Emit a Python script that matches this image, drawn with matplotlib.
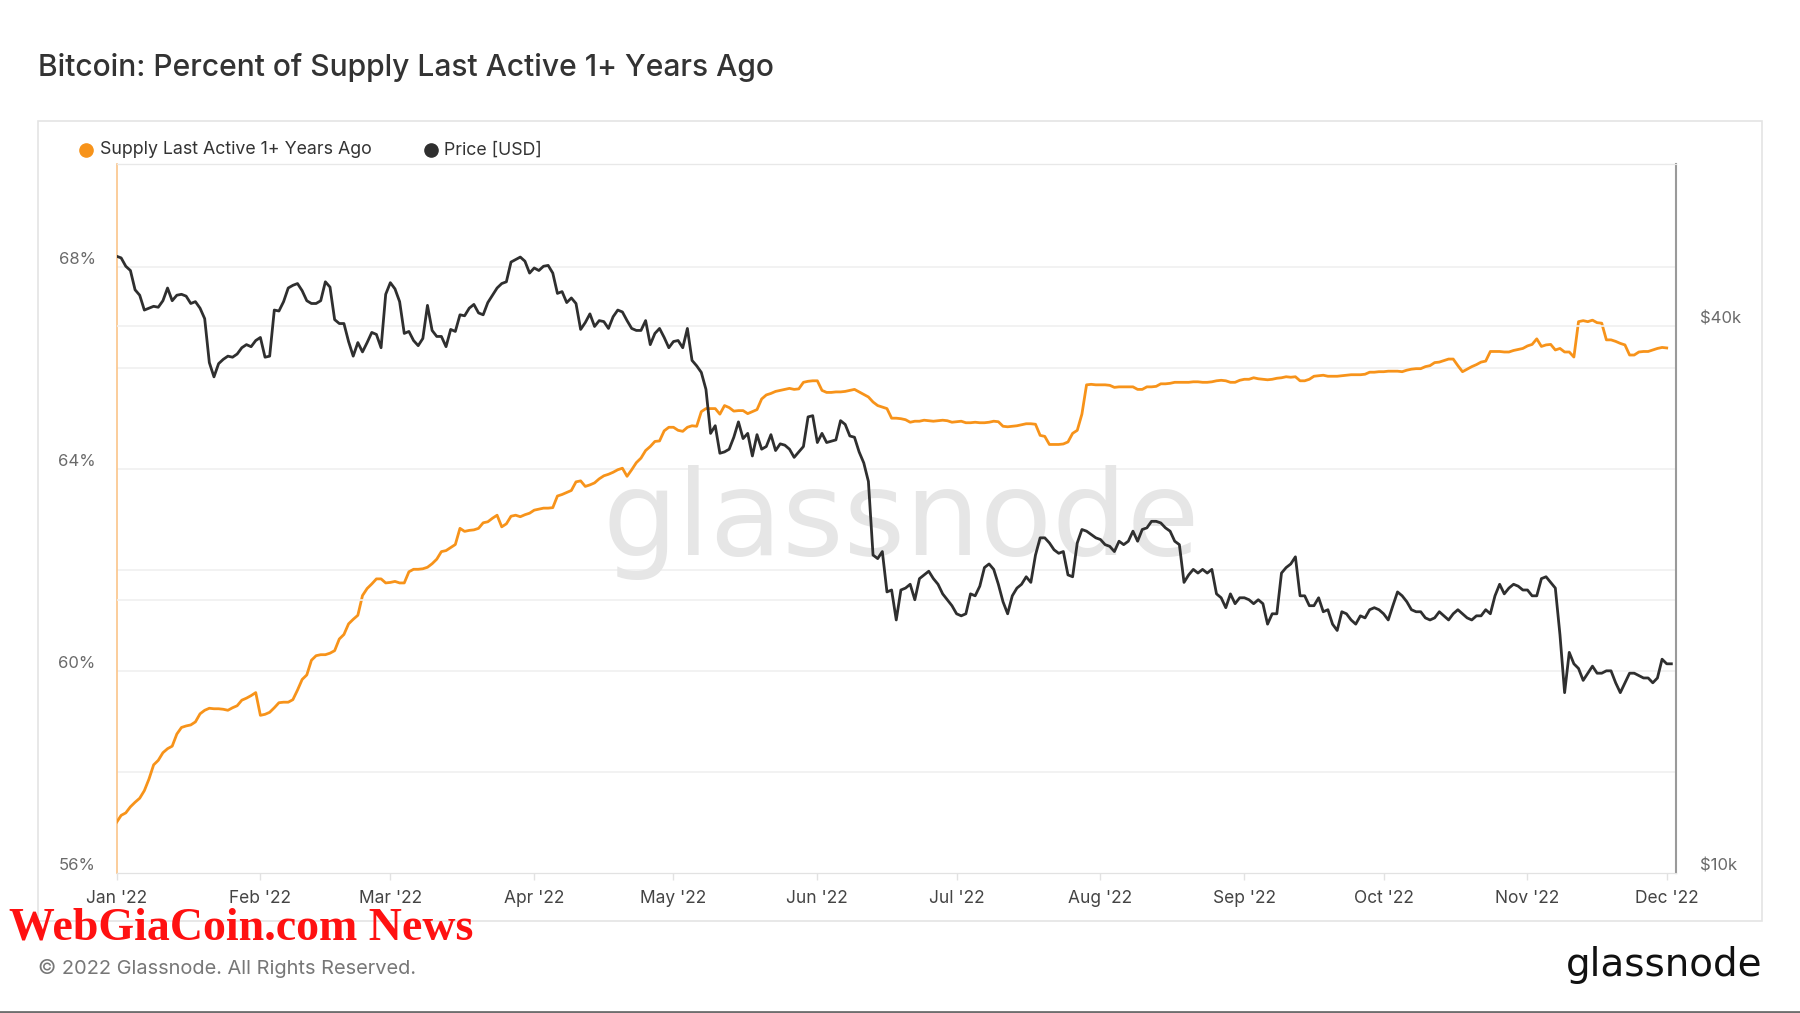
"""
Bitcoin: percent of supply last active 1+ years ago vs price (2022).
"""

import pandas as pd
import matplotlib
matplotlib.use('Agg')
import matplotlib.pyplot as plt
from matplotlib.lines import Line2D
from matplotlib.patches import Rectangle
from matplotlib.ticker import NullLocator


# Supply last active 1+ years ago [%], daily from 2022-01-01
supply_pct = [
    57.00, 57.14, 57.19, 57.31, 57.40, 57.48, 57.63, 57.86, 58.14, 58.23,
    58.38, 58.46, 58.51, 58.75, 58.88, 58.91, 58.93, 58.99, 59.15, 59.22,
    59.26, 59.25, 59.25, 59.24, 59.22, 59.27, 59.31, 59.42, 59.46, 59.51,
    59.57, 59.12, 59.14, 59.18, 59.27, 59.37, 59.38, 59.38, 59.43, 59.62,
    59.83, 59.92, 60.21, 60.30, 60.32, 60.32, 60.35, 60.40, 60.63, 60.72,
    60.93, 61.02, 61.10, 61.49, 61.63, 61.72, 61.82, 61.82, 61.74,
    61.75, 61.77, 61.74, 61.74, 61.96, 62.01, 62.01, 62.02, 62.05, 62.12,
    62.21, 62.36, 62.38, 62.44, 62.50, 62.82, 62.76, 62.78, 62.79, 62.82,
    62.93, 62.95, 63.02, 63.08, 62.85, 62.91, 63.06, 63.08, 63.05, 63.09,
    63.12, 63.18, 63.20, 63.22, 63.22, 63.23, 63.46, 63.49, 63.53, 63.57,
    63.74, 63.76, 63.65, 63.68, 63.72, 63.80, 63.86, 63.89, 63.93, 63.98,
    64.01, 63.85, 63.98, 64.12, 64.21, 64.36, 64.44, 64.54, 64.55,
    64.75, 64.82, 64.82, 64.76, 64.74, 64.82, 64.85, 64.84, 65.13, 65.19,
    65.19, 65.19, 65.08, 65.25, 65.21, 65.14, 65.15, 65.15, 65.09, 65.13,
    65.17, 65.38, 65.46, 65.49, 65.53, 65.55, 65.57, 65.59, 65.57, 65.58,
    65.71, 65.73, 65.74, 65.74, 65.55, 65.51, 65.51, 65.52, 65.52, 65.53,
    65.55, 65.57, 65.52, 65.47, 65.42, 65.32, 65.25, 65.22, 65.19, 65.00,
    65.00, 64.99, 64.97, 64.92, 64.94, 64.94, 64.96, 64.95,
    64.94, 64.95, 64.96, 64.95, 64.92, 64.93, 64.94, 64.91, 64.91, 64.92,
    64.91, 64.91, 64.92, 64.94, 64.93, 64.84, 64.83, 64.84, 64.85, 64.87,
    64.89, 64.89, 64.88, 64.66, 64.64, 64.48, 64.48, 64.48, 64.49, 64.53,
    64.70, 64.76, 65.08, 65.66, 65.67, 65.66, 65.66, 65.66, 65.65, 65.61,
    65.62, 65.62, 65.62, 65.62, 65.57, 65.57, 65.62, 65.62, 65.63, 65.68,
    65.68, 65.69, 65.71, 65.71, 65.71, 65.71, 65.72, 65.72,
    65.71, 65.71, 65.72, 65.74, 65.75, 65.74, 65.71, 65.71, 65.75, 65.77,
    65.77, 65.80, 65.78, 65.77, 65.76, 65.77, 65.79, 65.80, 65.82, 65.81,
    65.82, 65.74, 65.74, 65.77, 65.83, 65.84, 65.85, 65.83, 65.83, 65.83,
    65.84, 65.85, 65.86, 65.86, 65.86, 65.87, 65.91, 65.91, 65.92, 65.92,
    65.93, 65.93, 65.93, 65.92, 65.95, 65.97, 65.98, 65.98, 66.02, 66.04,
    66.10, 66.11, 66.14, 66.17, 66.17, 66.04, 65.92, 65.97,
    66.02, 66.06, 66.11, 66.13, 66.32, 66.32, 66.32, 66.31, 66.31, 66.34,
    66.36, 66.38, 66.43, 66.46, 66.57, 66.42, 66.45, 66.46, 66.35, 66.38,
    66.31, 66.31, 66.21, 66.91, 66.93, 66.91, 66.94, 66.89, 66.88, 66.55,
    66.55, 66.52, 66.48, 66.45, 66.25, 66.25, 66.31, 66.32, 66.32, 66.35,
    66.38, 66.40, 66.39,
]

# BTC price [thousand USD], daily from 2022-01-01
price_k = [
    47.8, 47.6, 46.6, 46.1, 43.9, 43.3, 41.7, 41.9, 42.1, 42.0,
    42.7, 44.1, 42.7, 43.3, 43.4, 43.2, 42.4, 42.6, 41.9, 40.8,
    36.5, 35.2, 36.4, 36.8, 37.1, 37.0, 37.3, 37.9, 38.2, 38.0,
    38.6, 38.9, 37.0, 37.1, 41.7, 41.6, 42.6, 44.1, 44.4, 44.6,
    43.8, 42.7, 42.4, 42.4, 42.7, 44.8, 44.2, 40.7, 40.3, 40.3,
    38.5, 37.1, 38.4, 37.5, 38.4, 39.4, 39.2, 37.9, 43.4, 44.7,
    44.0, 42.6, 39.3, 39.5, 38.6, 38.1, 38.8, 42.2, 39.6, 39.0,
    39.0, 38.0, 39.7, 39.5, 41.2, 41.1, 41.9, 42.3, 41.4, 41.2,
    42.5, 43.3, 44.1, 44.6, 44.8, 47.1, 47.4, 47.7, 47.2, 45.8,
    46.4, 46.1, 46.6, 46.7, 45.8, 43.5, 43.7, 42.5, 43.0, 42.4,
    39.7, 40.4, 41.3, 40.0, 40.6, 40.5, 39.8, 41.0, 41.7, 41.5,
    40.6, 39.8, 39.6, 39.6, 40.6, 38.2, 39.3, 39.8,
    38.9, 37.9, 38.5, 38.6, 37.9, 39.8, 36.7, 36.2, 35.6, 34.1,
    30.5, 31.1, 29.0, 29.1, 29.3, 30.2, 31.4, 30.1, 30.5, 28.8,
    30.4, 29.3, 29.5, 30.4, 29.2, 29.7, 29.6, 29.3, 28.7, 29.1,
    29.5, 31.8, 31.9, 29.8, 30.5, 29.8, 29.9, 30.0, 31.5, 31.2,
    30.3, 30.2, 29.1, 28.3, 27.0, 22.4, 22.2, 22.6, 20.4, 20.5,
    19.0, 20.5, 20.6, 20.8, 20.0, 21.1, 21.3, 21.5,
    21.1, 20.8, 20.3, 20.0, 19.7, 19.3, 19.2, 19.3, 20.3, 20.2,
    20.7, 21.7, 21.9, 21.6, 20.8, 19.9, 19.3, 20.2, 20.6, 20.8,
    21.2, 20.9, 22.4, 23.4, 23.4, 23.1, 22.7, 22.5, 22.6, 21.3,
    21.2, 23.1, 23.9, 23.8, 23.6, 23.4, 23.3, 23.0, 22.9, 22.6,
    23.2, 23.0, 23.2, 23.8, 23.2, 23.9, 24.0, 24.4, 24.4, 24.3,
    24.0, 23.8, 23.2, 23.0, 20.9, 21.3, 21.6, 21.4,
    21.6, 21.4, 21.6, 20.3, 20.1, 19.6, 20.3, 19.8, 20.1, 20.1,
    20.0, 19.8, 20.0, 19.8, 18.8, 19.3, 19.3, 21.4, 21.7, 21.9,
    22.3, 20.2, 20.2, 19.7, 19.7, 20.1, 19.4, 19.5, 18.8, 18.5,
    19.4, 19.3, 19.0, 18.8, 19.2, 19.1, 19.5, 19.6, 19.5, 19.3,
    19.0, 19.7, 20.4, 20.2, 19.9, 19.5, 19.4, 19.4, 19.1, 19.0,
    19.1, 19.4, 19.2, 19.0, 19.3, 19.5, 19.3, 19.1,
    19.0, 19.2, 19.2, 19.5, 19.3, 20.2, 20.8, 20.3, 20.6, 20.8,
    20.7, 20.5, 20.5, 20.2, 20.2, 21.1, 21.2, 20.9, 20.6, 18.3,
    15.8, 17.5, 17.0, 16.8, 16.3, 16.6, 16.9, 16.6, 16.6, 16.7,
    16.7, 16.2, 15.8, 16.2, 16.6, 16.6, 16.5, 16.4, 16.4, 16.2,
    16.4, 17.2, 17.0, 17.0,
]

month_labels = ["Jan '22", "Feb '22", "Mar '22", "Apr '22", "May '22",
                "Jun '22", "Jul '22", "Aug '22", "Sep '22", "Oct '22",
                "Nov '22", "Dec '22"]
pct_ticks = [56, 60, 64, 68]
pct_grid = [58, 60, 62, 64, 66, 68]
price_ticks = [10, 40]
price_tick_labels = ['$10k', '$40k']
price_grid = [20, 40]

ORANGE = '#f7931a'
DARK = '#2f2f2f'

plt.rcParams['font.family'] = ['Inter', 'DejaVu Sans']

W, H = 1800, 1013
fig = plt.figure(figsize=(18, 10.13), dpi=100)

# outer panel box
fig.add_artist(Rectangle((38 / W, 1 - 921 / H), 1724 / W, 800 / H,
                         transform=fig.transFigure, fill=False,
                         edgecolor='#e4e4e4', linewidth=1.2))
fig.add_artist(Line2D([0, 1], [0.0008, 0.0008], transform=fig.transFigure,
                      color='#6e6e6e', linewidth=2))

left, right, top, bottom = 116.5, 1676, 164, 873
ax = fig.add_axes([left / W, 1 - bottom / H, (right - left) / W,
                   (bottom - top) / H])
ax2 = ax.twinx()

dates_supply = pd.date_range('2022-01-01', periods=len(supply_pct), freq='D')
dates_price = pd.date_range('2022-01-01', periods=len(price_k), freq='D')
month_starts = pd.date_range('2022-01-01', periods=len(month_labels),
                             freq='MS')

# gridlines
for v in pct_grid:
    ax.axhline(v, color='#f0f0f0', linewidth=1.2, zorder=0)
for v in price_grid:
    ax2.axhline(v, color='#f0f0f0', linewidth=1.2, zorder=0)

ax.text(0.503, 0.494, 'glassnode', transform=ax.transAxes,
        ha='center', va='center', fontsize=85, color='#e6e6e6',
        family='DejaVu Sans', zorder=1)

ax.plot(dates_supply, supply_pct, color=ORANGE, linewidth=2.0, zorder=3)
ax2.plot(dates_price, price_k, color=DARK, linewidth=2.0, zorder=3)

ax.set_xlim(pd.Timestamp('2022-01-01'), pd.Timestamp('2022-12-03'))
ax.set_ylim(56, 70.03)
ax2.set_yscale('log')
ax2.set_ylim(10, 60.4)
ax2.yaxis.set_minor_locator(NullLocator())

ax.set_xticks(month_starts)
ax.set_xticklabels(month_labels, fontsize=12.5, color='#444444')
ax.tick_params(axis='x', length=5, width=1, color='#e2e2e2', pad=7)

ax.set_yticks(pct_ticks)
ax.set_yticklabels(['%d%%' % v for v in pct_ticks], fontsize=12,
                   color='#6a6a6a')
ax.tick_params(axis='y', length=0, pad=15)
for lbl in ax.get_yticklabels():
    lbl.set_verticalalignment('bottom')

ax2.set_yticks(price_ticks)
ax2.set_yticklabels(price_tick_labels, fontsize=12, color='#6a6a6a')
ax2.tick_params(axis='y', length=0, pad=17)
for lbl in ax2.get_yticklabels():
    lbl.set_verticalalignment('bottom')

for a in (ax, ax2):
    a.spines['top'].set_color('#e8e8e8')
    a.spines['bottom'].set_color('#e2e2e2')
ax.spines['left'].set_color('#fbc58a')
ax.spines['left'].set_linewidth(1.2)
ax.spines['right'].set_visible(False)
ax2.spines['left'].set_visible(False)
ax2.spines['right'].set_color('#9a9a9a')
ax2.spines['right'].set_linewidth(1.5)

# legend
leg_y = 1 - 150 / H
fig.add_artist(Line2D([86 / W], [leg_y], marker='o', markersize=9.5,
                      color=ORANGE, transform=fig.transFigure))
fig.text(100 / W, leg_y, 'Supply Last Active 1+ Years Ago',
         fontsize=12.8, color='#333333', va='center')
fig.add_artist(Line2D([430.5 / W], [leg_y], marker='o',
                      markersize=9.5, color=DARK,
                      transform=fig.transFigure))
fig.text(444 / W, leg_y, 'Price [USD]', fontsize=12.8,
         color='#333333', va='center')

fig.text(38 / W, 1 - 67 / H,
         'Bitcoin: Percent of Supply Last Active 1+ Years Ago',
         fontsize=21.6, color='#333333', va='center', fontweight='medium')

fig.text(38 / W, 1 - 968 / H, '\u00a9 2022 Glassnode. All Rights Reserved.',
         fontsize=14.4, color='#777777', va='center')
fig.text(1762 / W, 1 - 965 / H, 'glassnode', fontsize=28,
         color='#111111', ha='right', va='center', family='DejaVu Sans')
fig.text(9 / W, 1 - 928 / H, 'WebGiaCoin.com News', fontsize=33,
         color='#ff1111', fontweight='bold', va='center',
         family=['Liberation Serif', 'DejaVu Serif'])

fig.savefig('out.png', dpi=100)
